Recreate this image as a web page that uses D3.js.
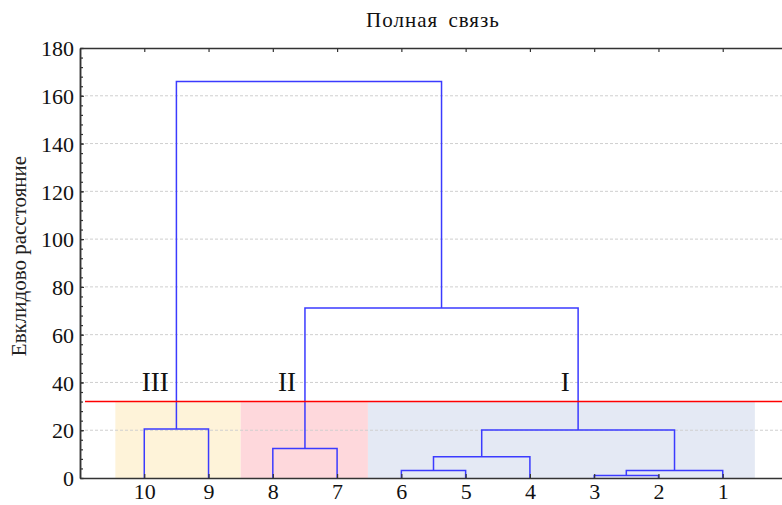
<!DOCTYPE html>
<html>
<head>
<meta charset="utf-8">
<script src="https://cdn.jsdelivr.net/npm/d3@7"></script>
<style>
  body { margin: 0; background: #fff; }
</style>
</head>
<body>
<div id="chart"></div>
<script>
// leaves, left to right
var leaves = ["10", "9", "8", "7", "6", "5", "4", "3", "2", "1"];
// merges: [left, right, height], new node gets id "n" + index
var merges = [
  ["3", "2", 1.0],
  ["6", "5", 3.1],
  ["n0", "1", 3.1],
  ["n1", "4", 8.9],
  ["8", "7", 12.4],
  ["n3", "n2", 20.1],
  ["10", "9", 20.5],
  ["n4", "n5", 71.2],
  ["n6", "n7", 166]
];
var cutoff = 32;
var clusterNames = ["III", "II", "I"];
var clusterFrom = [-0.45, 1.5, 3.48];
var clusterTo = [1.5, 3.48, 9.5];
var clusterLabelAt = [0.17, 2.22, 6.55];
var clusterColors = ["#fef3d9", "#fed8dc", "#e4e9f4"];
var yTicks = [0, 20, 40, 60, 80, 100, 120, 140, 160, 180];

var width = 782, height = 505;
var margin = {left: 80, top: 48};
var plotW = 707, plotH = 430;
var serif = "'Liberation Serif', 'Times New Roman', Times, 'DejaVu Serif', serif";

var svg = d3.select("#chart").append("svg")
  .attr("width", width)
  .attr("height", height)
  .attr("font-family", serif);

var x = d3.scaleLinear().domain([-1, 10]).range([margin.left, margin.left + plotW]);
var y = d3.scaleLinear().domain([0, 180]).range([margin.top + plotH, margin.top]);

// title and y label
svg.append("text")
  .attr("x", 433).attr("y", 27)
  .attr("text-anchor", "middle")
  .attr("font-size", 21)
  .attr("letter-spacing", 1)
  .attr("word-spacing", 4)
  .attr("fill", "#111")
  .text("Полная связь");

svg.append("text")
  .attr("transform", "translate(26," + 256 + ") rotate(-90)")
  .attr("text-anchor", "middle")
  .attr("font-size", 21)
  .attr("fill", "#222")
  .text("Евклидово расстояние");

// cluster shading
svg.selectAll("rect.cl")
  .data(clusterNames)
  .enter().append("rect")
  .attr("class", "cl")
  .attr("x", function (d, i) { return x(clusterFrom[i]); })
  .attr("width", function (d, i) { return x(clusterTo[i]) - x(clusterFrom[i]); })
  .attr("y", y(cutoff))
  .attr("height", y(0) - y(cutoff))
  .style("fill", function (d, i) { return clusterColors[i]; });

// grid
svg.selectAll("line.grid")
  .data(yTicks.filter(function (d) { return d > 0 && d < 180; }))
  .enter().append("line")
  .attr("class", "grid")
  .attr("x1", x(-1)).attr("x2", x(10))
  .attr("y1", function (d) { return y(d); })
  .attr("y2", function (d) { return y(d); })
  .style("stroke", "#cfcfcf")
  .style("stroke-width", 1)
  .style("stroke-dasharray", "3,2");

// dendrogram
var pos = {};
leaves.forEach(function (d, i) { pos[d] = {x: i, h: 0}; });
var links = [];
merges.forEach(function (m, i) {
  var a = pos[m[0]], b = pos[m[1]], h = m[2];
  links.push([[a.x, a.h], [a.x, h], [b.x, h], [b.x, b.h]]);
  pos["n" + i] = {x: (a.x + b.x) / 2, h: h};
});

var line = d3.line()
  .x(function (d) { return x(d[0]); })
  .y(function (d) { return y(d[1]); });

svg.selectAll("path.link")
  .data(links)
  .enter().append("path")
  .attr("class", "link")
  .attr("d", line)
  .style("fill", "none")
  .style("stroke", "#3b3bff")
  .style("stroke-width", 1.5);

// cut-off line
svg.append("line")
  .attr("x1", 85).attr("x2", x(10))
  .attr("y1", y(cutoff)).attr("y2", y(cutoff))
  .style("stroke", "#ff0000")
  .style("stroke-width", 1.5);

svg.selectAll("text.cl")
  .data(clusterNames)
  .enter().append("text")
  .attr("class", "cl")
  .attr("x", function (d, i) { return x(clusterLabelAt[i]); })
  .attr("y", 391)
  .attr("text-anchor", "middle")
  .attr("font-size", 27)
  .attr("fill", "#111")
  .text(function (d) { return d; });

// axes
var xAxis = d3.axisBottom(x)
  .tickValues(d3.range(leaves.length))
  .tickFormat(function (d) { return leaves[d]; })
  .tickSizeInner(-4).tickSizeOuter(0).tickPadding(8);
var xTop = d3.axisTop(x)
  .tickValues(d3.range(leaves.length))
  .tickFormat("")
  .tickSizeInner(-4).tickSizeOuter(0);
var yMinor = d3.axisLeft(y)
  .tickValues(d3.range(0, 181, 4))
  .tickFormat("")
  .tickSizeInner(-3).tickSizeOuter(0);
var yAxis = d3.axisLeft(y)
  .tickValues(yTicks)
  .tickSizeInner(-4).tickSizeOuter(0).tickPadding(6);

var gx = svg.append("g")
  .attr("transform", "translate(0," + y(0) + ")")
  .call(xAxis);
var gt = svg.append("g")
  .attr("transform", "translate(0," + y(180) + ")")
  .call(xTop);
var gm = svg.append("g")
  .attr("transform", "translate(" + x(-1) + ",0)")
  .call(yMinor);
var gy = svg.append("g")
  .attr("transform", "translate(" + x(-1) + ",0)")
  .call(yAxis);

[gx, gt, gm, gy].forEach(function (g) {
  g.attr("font-family", serif).attr("font-size", 22);
  g.select(".domain").style("stroke", "#333").style("stroke-width", 1.5);
  g.selectAll(".tick line").style("stroke", "#333").style("stroke-width", 1.2);
  g.selectAll("text").attr("fill", "#111");
});
gx.selectAll("text").attr("dy", "0.6em");
gy.selectAll("text").attr("dy", "0.35em");
</script>
</body>
</html>
